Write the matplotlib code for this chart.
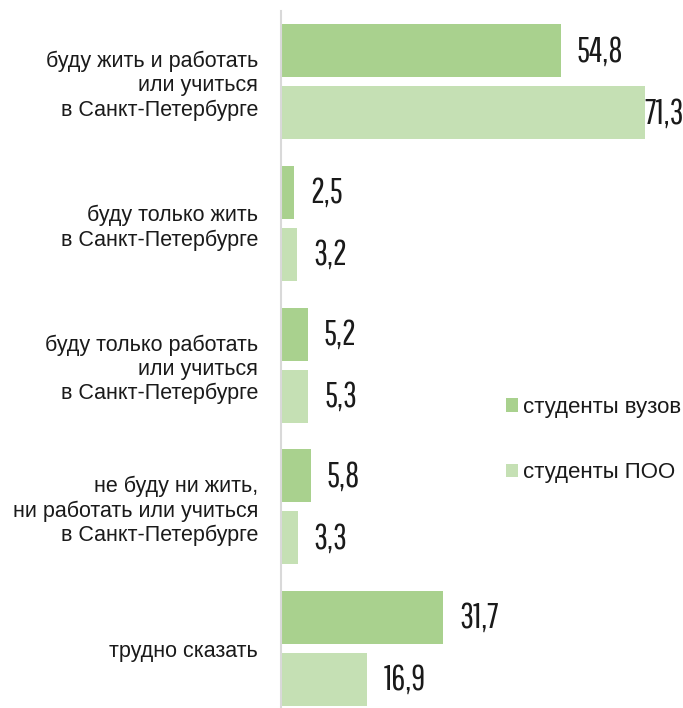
import matplotlib.pyplot as plt
import numpy as np

categories = [
    "буду жить и работать\nили учиться\nв Санкт-Петербурге",
    "буду только жить\nв Санкт-Петербурге",
    "буду только работать\nили учиться\nв Санкт-Петербурге",
    "не буду ни жить,\nни работать или учиться\nв Санкт-Петербурге",
    "трудно сказать",
]
vuz = [54.8, 2.5, 5.2, 5.8, 31.7]
poo = [71.3, 3.2, 5.3, 3.3, 16.9]
series_names = ["студенты вузов", "студенты ПОО"]

C_VUZ = "#a9d18e"
C_POO = "#c5e0b4"
TXT = "#1a1a1a"
SANS = ["Liberation Sans", "DejaVu Sans"]

W, H = 683, 708
fig = plt.figure(figsize=(W / 100, H / 100), dpi=100)
ax = fig.add_axes([281 / W, 0, 1 - 281 / W, 1 - 11 / H])

y = np.arange(len(categories))
h = 0.375
off = 0.219
b1 = ax.barh(y - off, vuz, height=h, color=C_VUZ, label=series_names[0])
b2 = ax.barh(y + off, poo, height=h, color=C_POO, label=series_names[1])

xmax = 78.7
ax.set_xlim(0, xmax)
ax.set_ylim(4.42, -0.5)

# подписи значений узким шрифтом
num_font = dict(family=["Pathway Gothic One", "DejaVu Sans"], fontsize=25, color=TXT)
for bars in (b1, b2):
    for r in bars:
        v = r.get_width()
        yc = r.get_y() + r.get_height() / 2
        txt = f"{v:.1f}".replace(".", ",")
        dx = 16 if v < 68 else -1
        ax.annotate(txt, (v, yc), xytext=(dx, 0), textcoords="offset pixels",
                    ha="left", va="center", **num_font)

ax.set_yticks(y)
ax.set_yticklabels(categories, family=SANS, fontsize=15.5, color=TXT,
                   linespacing=1.2)
ax.tick_params(axis="y", length=0, pad=16.5)
ax.set_xticks([])

for s in ["top", "right", "bottom"]:
    ax.spines[s].set_visible(False)
ax.spines["left"].set_color("#d9d9d9")
ax.spines["left"].set_linewidth(1.5)

leg = ax.legend(loc="upper left",
                bbox_to_anchor=((506 - 281) / (W - 281), 1 - (397 - 11) / 697),
                frameon=False, handlelength=0.55, handleheight=0.55,
                handletextpad=0.22, labelspacing=2.0, borderaxespad=0,
                borderpad=0, prop=dict(family=SANS, size=16))
for t in leg.get_texts():
    t.set_color(TXT)

fig.savefig("out.png", dpi=100)
